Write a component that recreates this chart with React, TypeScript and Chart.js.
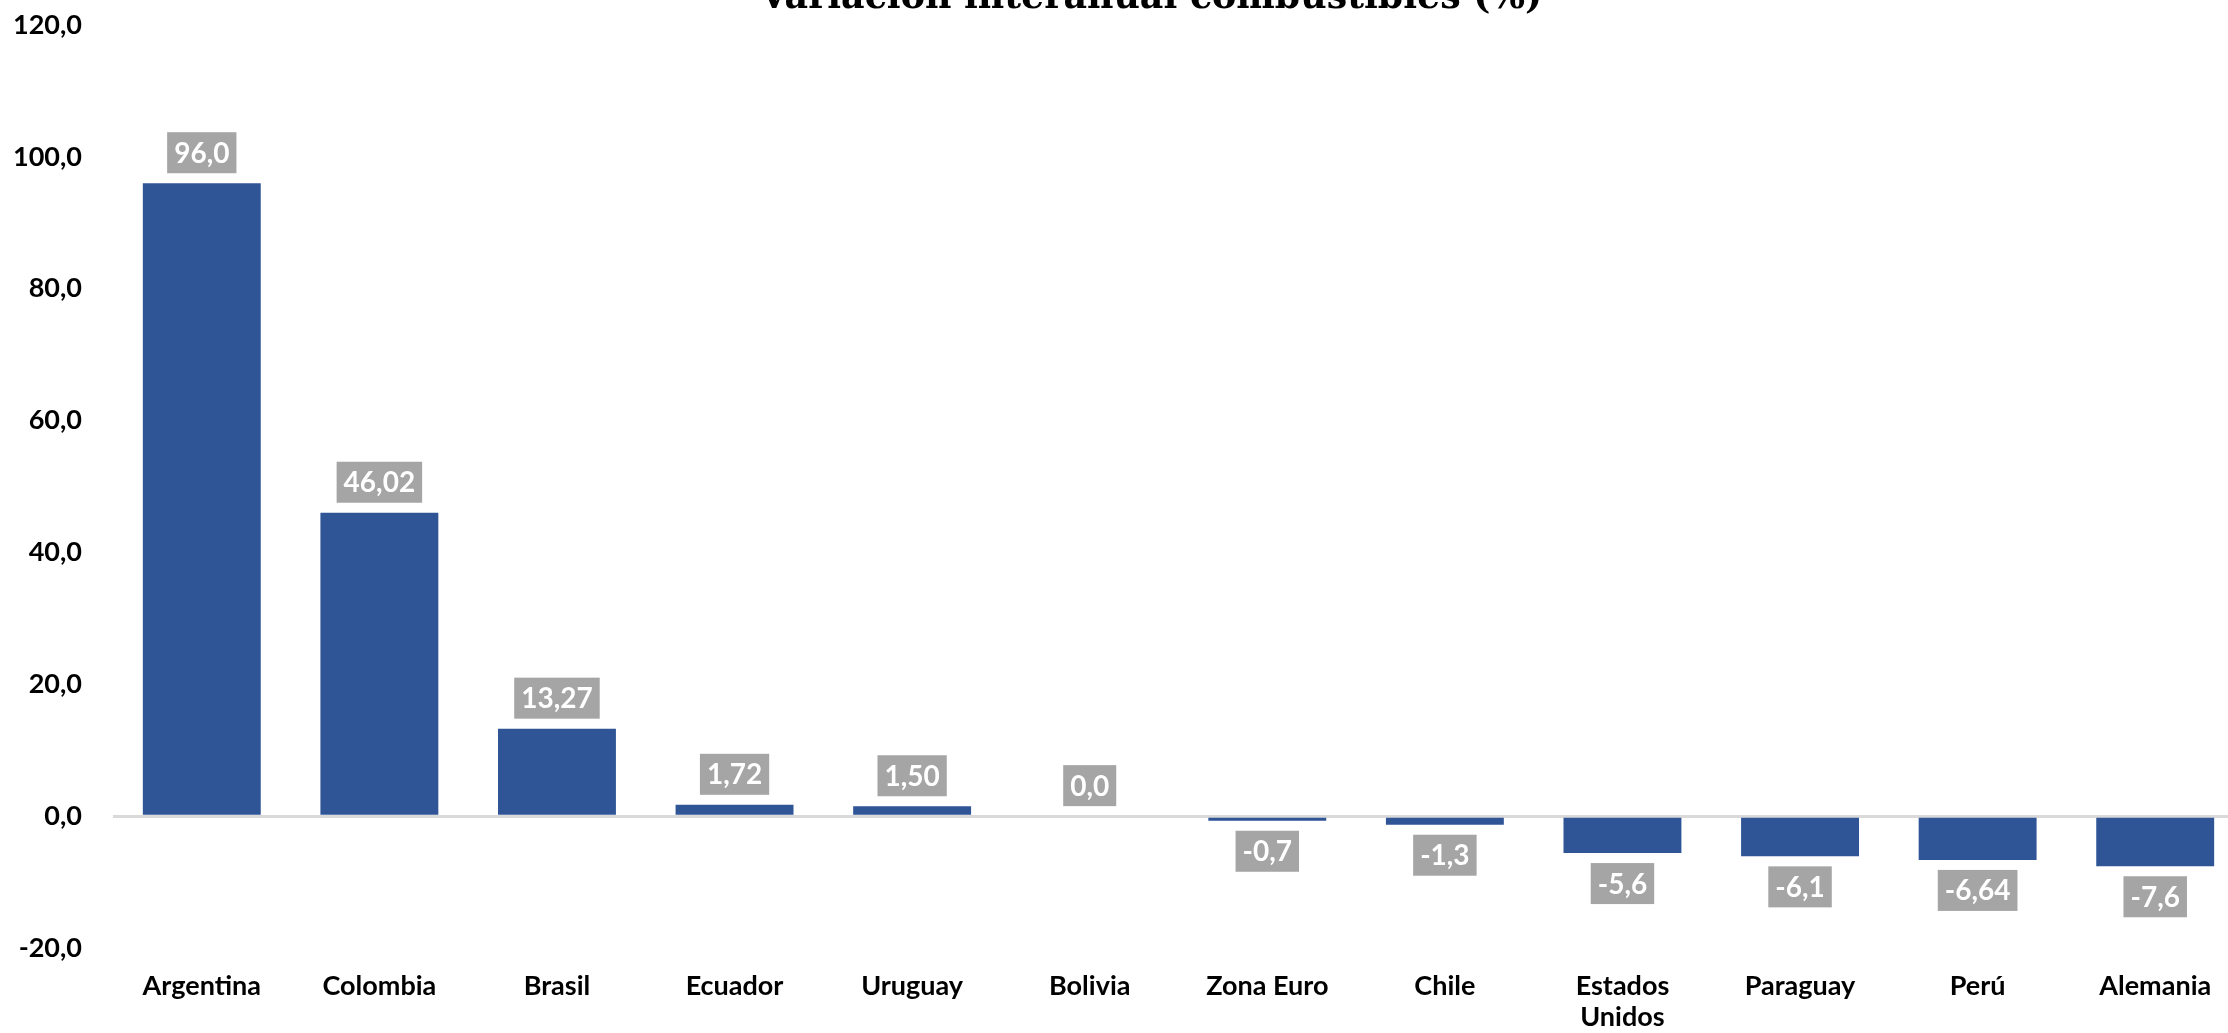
import React, { useEffect, useRef } from "react";
import { Chart, registerables } from "chart.js";

Chart.register(...registerables);

const categories: (string | string[])[] = [
  "Argentina",
  "Colombia",
  "Brasil",
  "Ecuador",
  "Uruguay",
  "Bolivia",
  "Zona Euro",
  "Chile",
  ["Estados", "Unidos"],
  "Paraguay",
  "Perú",
  "Alemania",
];
const values: number[] = [96.0, 46.02, 13.27, 1.72, 1.5, 0.0, -0.7, -1.3, -5.6, -6.1, -6.64, -7.6];
const dataLabels: string[] = ["96,0", "46,02", "13,27", "1,72", "1,50", "0,0", "-0,7", "-1,3", "-5,6", "-6,1", "-6,64", "-7,6"];
const yTickValues: number[] = [-20, 0, 20, 40, 60, 80, 100, 120];
const yTickLabels: string[] = ["-20,0", "0,0", "20,0", "40,0", "60,0", "80,0", "100,0", "120,0"];
const title = "Variación interanual combustibles (%)";

const CANVAS_W = 2244;
const CANVAS_H = 1033;
const TICK_FONT = "Lato";

const titlePlugin = {
  id: "topTitle",
  afterDraw(chart: any) {
    const ctx = chart.ctx;
    ctx.save();
    const targetW = 783;
    ctx.font = "bold 35px 'DejaVu Serif'";
    const w = ctx.measureText(title).width;
    const size = (35 * targetW) / w;
    ctx.font = `bold ${size.toFixed(2)}px 'DejaVu Serif'`;
    ctx.fillStyle = "#000";
    ctx.textAlign = "center";
    ctx.textBaseline = "alphabetic";
    ctx.fillText(title, 1151, 8);
    ctx.restore();
  },
};

const labelPlugin = {
  id: "boxLabels",
  afterDatasetsDraw(chart: any) {
    const ctx = chart.ctx;
    const meta = chart.getDatasetMeta(0);
    ctx.save();
    ctx.font = "bold 28px Lato";
    ctx.textAlign = "center";
    ctx.textBaseline = "middle";
    meta.data.forEach((bar: any, i: number) => {
      const v = values[i];
      const text = dataLabels[i];
      const tw = ctx.measureText(text).width;
      const w = tw + 14;
      const h = 41;
      const gap = 10;
      const top = v >= 0 ? bar.y - gap - h : bar.y + gap;
      ctx.fillStyle = "#A5A5A5";
      ctx.fillRect(bar.x - w / 2, top, w, h);
      ctx.fillStyle = "#FFFFFF";
      ctx.fillText(text, bar.x, top + h / 2 + 1);
    });
    ctx.restore();
  },
};

export default function App() {
  const ref = useRef<HTMLCanvasElement | null>(null);
  useEffect(() => {
    if (!ref.current) return;
    const chart = new Chart(ref.current, {
      type: "bar",
      data: {
        labels: categories,
        datasets: [
          {
            data: values,
            backgroundColor: "#2F5597",
            borderWidth: 0,
            categoryPercentage: 1,
            barPercentage: 0.664,
          },
        ],
      },
      options: {
        animation: false,
        responsive: false,
        devicePixelRatio: 1,
        layout: { padding: 0 },
        plugins: {
          legend: { display: false },
          tooltip: { enabled: false },
          title: { display: false },
        },
        scales: {
          x: {
            grid: { display: false },
            border: { display: false },
            ticks: {
              color: "#000",
              font: { family: TICK_FONT, size: 27, weight: "bold", lineHeight: 1.15 },
              padding: 15,
              maxRotation: 0,
              autoSkip: false,
            },
            afterFit(scale: any) {
              scale.height = 85;
            },
          },
          y: {
            min: -20,
            max: 120,
            afterBuildTicks(scale: any) {
              scale.ticks = yTickValues.map((v) => ({ value: v }));
            },
            grid: {
              color: (c: any) => (c.tick && c.tick.value === 0 ? "#D9D9D9" : "rgba(0,0,0,0)"),
              lineWidth: 3,
              drawTicks: false,
            },
            border: { display: false },
            ticks: {
              color: "#000",
              font: { family: TICK_FONT, size: 27, weight: "bold" },
              padding: 31,
              callback: (val: any) => {
                const idx = yTickValues.indexOf(Number(val));
                return idx >= 0 ? yTickLabels[idx] : "";
              },
            },
            afterFit(scale: any) {
              scale.width = 113;
              scale.paddingTop = 25;
              scale.paddingBottom = 16;
            },
          },
        },
      },
      plugins: [labelPlugin, titlePlugin],
    });
    return () => chart.destroy();
  }, []);

  return (
    <div
      style={{
        position: "fixed",
        left: 0,
        top: 0,
        width: 2228,
        height: 1033,
        overflow: "hidden",
        background: "#fff",
      }}
    >
      <canvas
        ref={ref}
        width={CANVAS_W}
        height={CANVAS_H}
        style={{ position: "absolute", left: 0, top: 0, width: CANVAS_W, height: CANVAS_H }}
      />
    </div>
  );
}
